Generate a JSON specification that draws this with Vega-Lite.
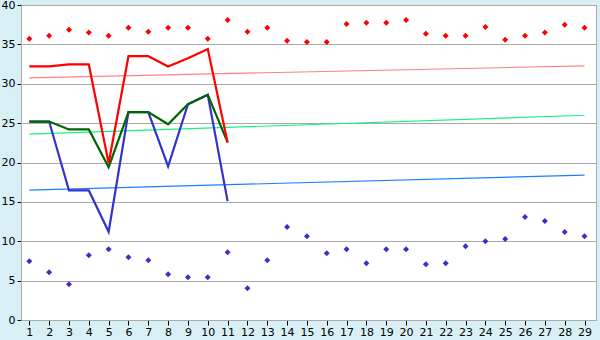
{
  "$schema": "https://vega.github.io/schema/vega-lite/v6.json",
  "width": 575,
  "height": 315,
  "autosize": {"type": "none"},
  "padding": {"left": 21, "top": 5, "right": 4, "bottom": 20},
  "background": "#d9eff6",
  "config": {
    "view": {"fill": "white", "stroke": "#aaaaaa", "strokeWidth": 1},
    "axis": {"labelFont": "DejaVu Sans", "labelFontSize": 11, "labelColor": "black", "title": null, "domainColor": "#aaaaaa", "tickColor": "black"}
  },
  "datasets": {
    "pts": [
      {"x":1,"s":"hi","v":35.7},{"x":2,"s":"hi","v":36.1},{"x":3,"s":"hi","v":36.85},{"x":4,"s":"hi","v":36.5},{"x":5,"s":"hi","v":36.1},
      {"x":6,"s":"hi","v":37.1},{"x":7,"s":"hi","v":36.6},{"x":8,"s":"hi","v":37.1},{"x":9,"s":"hi","v":37.1},{"x":10,"s":"hi","v":35.7},
      {"x":11,"s":"hi","v":38.1},{"x":12,"s":"hi","v":36.6},{"x":13,"s":"hi","v":37.1},{"x":14,"s":"hi","v":35.45},{"x":15,"s":"hi","v":35.3},
      {"x":16,"s":"hi","v":35.3},{"x":17,"s":"hi","v":37.6},{"x":18,"s":"hi","v":37.75},{"x":19,"s":"hi","v":37.75},{"x":20,"s":"hi","v":38.1},
      {"x":21,"s":"hi","v":36.35},{"x":22,"s":"hi","v":36.1},{"x":23,"s":"hi","v":36.1},{"x":24,"s":"hi","v":37.2},{"x":25,"s":"hi","v":35.6},
      {"x":26,"s":"hi","v":36.1},{"x":27,"s":"hi","v":36.5},{"x":28,"s":"hi","v":37.5},{"x":29,"s":"hi","v":37.1},
      {"x":1,"s":"lo","v":7.47},{"x":2,"s":"lo","v":6.07},{"x":3,"s":"lo","v":4.54},{"x":4,"s":"lo","v":8.23},{"x":5,"s":"lo","v":8.99},
      {"x":6,"s":"lo","v":7.97},{"x":7,"s":"lo","v":7.6},{"x":8,"s":"lo","v":5.81},{"x":9,"s":"lo","v":5.43},{"x":10,"s":"lo","v":5.43},
      {"x":11,"s":"lo","v":8.6},{"x":12,"s":"lo","v":4.03},{"x":13,"s":"lo","v":7.6},{"x":14,"s":"lo","v":11.8},{"x":15,"s":"lo","v":10.65},
      {"x":16,"s":"lo","v":8.49},{"x":17,"s":"lo","v":8.99},{"x":18,"s":"lo","v":7.21},{"x":19,"s":"lo","v":8.99},{"x":20,"s":"lo","v":8.99},
      {"x":21,"s":"lo","v":7.09},{"x":22,"s":"lo","v":7.21},{"x":23,"s":"lo","v":9.37},{"x":24,"s":"lo","v":10.0},{"x":25,"s":"lo","v":10.27},
      {"x":26,"s":"lo","v":13.07},{"x":27,"s":"lo","v":12.56},{"x":28,"s":"lo","v":11.16},{"x":29,"s":"lo","v":10.65}
    ],
    "lines": [
      {"x":1,"s":"blue","v":25.2},{"x":2,"s":"blue","v":25.2},{"x":3,"s":"blue","v":16.45},{"x":4,"s":"blue","v":16.45},{"x":5,"s":"blue","v":11.2},
      {"x":6,"s":"blue","v":26.4},{"x":7,"s":"blue","v":26.4},{"x":8,"s":"blue","v":19.5},{"x":9,"s":"blue","v":27.4},{"x":10,"s":"blue","v":28.6},{"x":11,"s":"blue","v":15.1},
      {"x":1,"s":"green","v":25.2},{"x":2,"s":"green","v":25.2},{"x":3,"s":"green","v":24.2},{"x":4,"s":"green","v":24.2},{"x":5,"s":"green","v":19.4},
      {"x":6,"s":"green","v":26.4},{"x":7,"s":"green","v":26.4},{"x":8,"s":"green","v":24.85},{"x":9,"s":"green","v":27.4},{"x":10,"s":"green","v":28.6},{"x":11,"s":"green","v":22.55},
      {"x":1,"s":"red","v":32.2},{"x":2,"s":"red","v":32.2},{"x":3,"s":"red","v":32.45},{"x":4,"s":"red","v":32.45},{"x":5,"s":"red","v":19.9},
      {"x":6,"s":"red","v":33.5},{"x":7,"s":"red","v":33.5},{"x":8,"s":"red","v":32.2},{"x":9,"s":"red","v":33.25},{"x":10,"s":"red","v":34.4},{"x":11,"s":"red","v":22.55}
    ],
    "trends": [
      {"x":1,"s":"tr","v":30.75},{"x":29,"s":"tr","v":32.27},
      {"x":1,"s":"tg","v":23.6},{"x":29,"s":"tg","v":26.0},
      {"x":1,"s":"tb","v":16.5},{"x":29,"s":"tb","v":18.4}
    ]
  },
  "encoding": {
    "x": {"field": "x", "type": "quantitative",
      "scale": {"domain": [0.58, 29.58], "nice": false, "zero": false},
      "axis": {"values": [1,2,3,4,5,6,7,8,9,10,11,12,13,14,15,16,17,18,19,20,21,22,23,24,25,26,27,28,29], "grid": false, "tickSize": 5, "labelPadding": 1, "format": "d"}},
    "y": {"field": "v", "type": "quantitative",
      "scale": {"domain": [0, 40], "nice": false},
      "axis": {"values": [0,5,10,15,20,25,30,35,40], "grid": true, "gridColor": "#aaaaaa", "gridOpacity": 1, "tickSize": 4, "labelPadding": 2}}
  },
  "layer": [
    {
      "data": {"name": "trends"},
      "mark": {"type": "line", "strokeWidth": 1.2},
      "encoding": {
        "color": {"field": "s", "type": "nominal", "scale": {"domain": ["tr","tg","tb"], "range": ["#ff8080","#19f280","#1a80ff"]}, "legend": null}
      }
    },
    {
      "data": {"name": "lines"},
      "mark": {"type": "line", "strokeWidth": 2.2},
      "encoding": {
        "color": {"field": "s", "type": "nominal", "scale": {"domain": ["red","green","blue"], "range": ["#ff0000","#006600","#3333cc"]}, "legend": null},
        "order": {"field": "x", "type": "quantitative"}
      }
    },
    {
      "data": {"name": "pts"},
      "mark": {"type": "point", "shape": "diamond", "filled": true, "size": 36, "opacity": 1},
      "encoding": {
        "color": {"field": "s", "type": "nominal", "scale": {"domain": ["hi","lo"], "range": ["#ff0000","#3333cc"]}, "legend": null}
      }
    }
  ],
  "resolve": {"scale": {"color": "independent"}}
}
